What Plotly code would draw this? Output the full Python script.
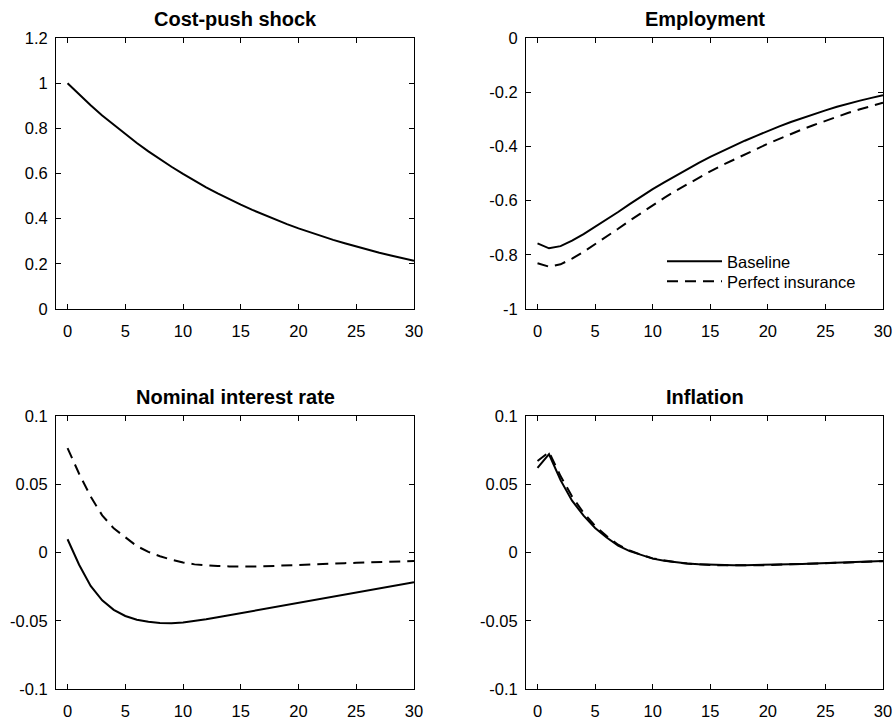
import plotly.graph_objects as go

periods = list(range(31))

cost_push = [1.0, 0.95, 0.9025, 0.857, 0.815, 0.774, 0.735, 0.698, 0.663, 0.630,
             0.598, 0.568, 0.539, 0.512, 0.486, 0.462, 0.439, 0.417, 0.396, 0.376,
             0.357, 0.339, 0.322, 0.306, 0.291, 0.276, 0.262, 0.249, 0.237, 0.225, 0.214]

emp_base = [-0.758, -0.776, -0.768, -0.748, -0.724, -0.697, -0.671, -0.642, -0.613, -0.585,
            -0.558, -0.533, -0.508, -0.484, -0.461, -0.439, -0.418, -0.398, -0.379, -0.361,
            -0.343, -0.326, -0.31, -0.295, -0.281, -0.267, -0.254, -0.242, -0.231, -0.221, -0.211]
emp_pi = [-0.831, -0.844, -0.835, -0.814, -0.789, -0.761, -0.734, -0.704, -0.674, -0.645,
          -0.616, -0.59, -0.564, -0.539, -0.515, -0.492, -0.47, -0.449, -0.429, -0.41,
          -0.39, -0.372, -0.354, -0.337, -0.321, -0.305, -0.29, -0.276, -0.263, -0.251, -0.239]

rate_base = [0.0097, -0.009, -0.0245, -0.035, -0.042, -0.0465, -0.0492, -0.0508, -0.0516, -0.0518,
             -0.0512, -0.0503, -0.0489, -0.0475, -0.046, -0.0446, -0.0431, -0.0416, -0.0401, -0.0386,
             -0.0371, -0.0356, -0.0341, -0.0326, -0.0311, -0.0295, -0.028, -0.0264, -0.0249, -0.0233, -0.0218]
rate_pi = [0.0765, 0.0577, 0.041, 0.0272, 0.0177, 0.0112, 0.0047, 0.0005, -0.0027, -0.0053,
           -0.0073, -0.0087, -0.0095, -0.0099, -0.0102, -0.0104, -0.0103, -0.0101, -0.0097, -0.0094,
           -0.0091, -0.0087, -0.0084, -0.0081, -0.0078, -0.0076, -0.0073, -0.0071, -0.0069, -0.0066, -0.0062]

infl_base = [0.062, 0.072, 0.053, 0.038, 0.027, 0.018, 0.011, 0.005, 0.001, -0.002,
             -0.0045, -0.006, -0.0072, -0.008, -0.0086, -0.009, -0.0092, -0.0093, -0.0093, -0.0092,
             -0.009, -0.0088, -0.0086, -0.0084, -0.0081, -0.0078, -0.0075, -0.0072, -0.0069, -0.0066, -0.0063]
infl_pi = [0.067, 0.0735, 0.056, 0.041, 0.029, 0.0195, 0.012, 0.0057, 0.0015, -0.0017,
           -0.0043, -0.006, -0.0072, -0.0081, -0.0088, -0.0092, -0.0094, -0.0095, -0.0095, -0.0094,
           -0.0092, -0.009, -0.0088, -0.0085, -0.0082, -0.0079, -0.0076, -0.0073, -0.007, -0.0067, -0.0064]

titles = ["Cost-push shock", "Employment", "Nominal interest rate", "Inflation"]
x_ticks = [0, 5, 10, 15, 20, 25, 30]
y1_ticks = [0, 0.2, 0.4, 0.6, 0.8, 1.0, 1.2]
y1_text = ["0", "0.2", "0.4", "0.6", "0.8", "1", "1.2"]
y2_ticks = [-1, -0.8, -0.6, -0.4, -0.2, 0]
y2_text = ["-1", "-0.8", "-0.6", "-0.4", "-0.2", "0"]
y3_ticks = [-0.1, -0.05, 0, 0.05, 0.1]
y3_text = ["-0.1", "-0.05", "0", "0.05", "0.1"]

W, H = 896, 722


def px(x):
    return x / W


def py(y):
    return 1 - y / H


dom_x = [[px(56), px(414)], [px(526), px(883)]]
dom_y_top = [py(309), py(38)]
dom_y_bot = [py(689), py(416)]

FONT = "Liberation Sans, Arial, sans-serif"

fig = go.Figure()
solid = dict(color="black", width=2)
dashed = dict(color="black", width=2, dash="11px,7px")

fig.add_trace(go.Scatter(x=periods, y=cost_push, mode="lines", line=solid, showlegend=False, xaxis="x", yaxis="y"))
fig.add_trace(go.Scatter(x=periods, y=emp_base, mode="lines", line=solid, name="Baseline",
                         legend="legend", xaxis="x2", yaxis="y2"))
fig.add_trace(go.Scatter(x=periods, y=emp_pi, mode="lines", line=dashed, name="Perfect insurance",
                         legend="legend2", xaxis="x2", yaxis="y2"))
fig.add_trace(go.Scatter(x=periods, y=rate_base, mode="lines", line=solid, showlegend=False, xaxis="x3", yaxis="y3"))
fig.add_trace(go.Scatter(x=periods, y=rate_pi, mode="lines", line=dashed, showlegend=False, xaxis="x3", yaxis="y3"))
fig.add_trace(go.Scatter(x=periods, y=infl_base, mode="lines", line=solid, showlegend=False, xaxis="x4", yaxis="y4"))
fig.add_trace(go.Scatter(x=periods, y=infl_pi, mode="lines", line=dashed, showlegend=False, xaxis="x4", yaxis="y4"))

tickfont = dict(family=FONT, size=16.5, color="black")
common = dict(showline=True, linecolor="black", linewidth=1, mirror="allticks", ticks="inside",
              ticklen=5, tickcolor="black", tickwidth=1, showgrid=False, zeroline=False,
              tickfont=tickfont, automargin=False)

layout = {}
panels = [
    ("x", "y", dom_x[0], dom_y_top, [0, 1.2], y1_ticks, y1_text),
    ("x2", "y2", dom_x[1], dom_y_top, [-1, 0], y2_ticks, y2_text),
    ("x3", "y3", dom_x[0], dom_y_bot, [-0.1, 0.1], y3_ticks, y3_text),
    ("x4", "y4", dom_x[1], dom_y_bot, [-0.1, 0.1], y3_ticks, y3_text),
]
annotations = []
for i, (xa, ya, dx, dy, yr, yt, ytt) in enumerate(panels):
    xkey = "xaxis" if xa == "x" else "xaxis" + xa[1:]
    ykey = "yaxis" if ya == "y" else "yaxis" + ya[1:]
    layout[xkey] = dict(domain=dx, anchor=ya, range=[-1, 30], tickvals=x_ticks,
                        ticktext=[str(v) for v in x_ticks], ticklabelstandoff=7, **common)
    layout[ykey] = dict(domain=dy, anchor=xa, range=yr, tickvals=yt, ticktext=ytt,
                        ticklabelstandoff=4, **common)
    annotations.append(dict(text="<b>" + titles[i] + "</b>", x=(dx[0] + dx[1]) / 2, y=dy[1],
                            xref="paper", yref="paper", xanchor="center", yanchor="bottom",
                            yshift=6, showarrow=False,
                            font=dict(family=FONT, size=20, color="black")))

legend_style = dict(xanchor="left", yanchor="top", bgcolor="rgba(0,0,0,0)", borderwidth=0,
                    itemwidth=55, font=dict(family=FONT, size=16.5, color="black"))

fig.update_layout(
    width=W, height=H, margin=dict(l=0, r=0, t=0, b=0, pad=0),
    template="none",
    paper_bgcolor="white", plot_bgcolor="white",
    annotations=annotations,
    legend=dict(x=px(662), y=py(244), **legend_style),
    legend2=dict(x=px(662), y=py(264), **legend_style),
    **layout,
)

fig.write_html(
    "out.html",
    config={"displayModeBar": False},
    post_script="document.body.style.margin='0';document.body.style.overflow='hidden';",
)
